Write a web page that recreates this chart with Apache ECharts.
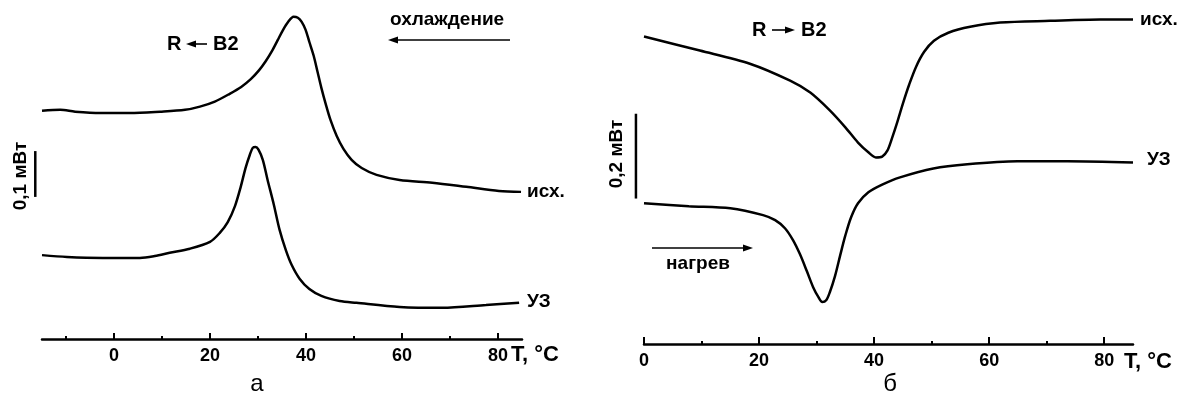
<!DOCTYPE html>
<html>
<head>
<meta charset="utf-8">
<script src="https://cdn.jsdelivr.net/npm/echarts@6/dist/echarts.min.js"></script>
<style>
  html, body { margin: 0; padding: 0; background: #fff; }
  #chart { width: 1188px; height: 396px; }
</style>
</head>
<body>
<div id="chart"></div>
<script>
// panel а (cooling): [T, °C ; signal, mW]
const coolInitial = [
  [-15, 0.498], [-11.2, 0.500], [-8.1, 0.496], [-2.9, 0.493], [3.3, 0.493],
  [9.6, 0.496], [14.8, 0.500], [17.9, 0.507], [21.0, 0.518], [24.1, 0.535],
  [26.5, 0.550], [28.5, 0.567], [30.2, 0.586], [31.6, 0.606], [32.9, 0.628],
  [34.1, 0.652], [35.2, 0.674], [36.3, 0.692], [37.4, 0.703], [38.3, 0.701],
  [39.1, 0.692], [39.9, 0.675], [40.7, 0.648], [41.6, 0.618], [42.4, 0.583],
  [43.2, 0.548], [44.1, 0.513], [45.1, 0.478], [46.4, 0.443], [47.8, 0.415],
  [49.5, 0.391], [51.6, 0.373], [54.7, 0.358], [59.5, 0.347], [66.3, 0.341],
  [73.4, 0.332], [80.2, 0.323], [84.8, 0.321]
]
const coolUS = [
  [-15, 0.183], [-9.8, 0.179], [-2.3, 0.177], [5.4, 0.177], [8.5, 0.181],
  [11.6, 0.188], [15.8, 0.197], [20.0, 0.212], [22.0, 0.231], [23.7, 0.255],
  [25.2, 0.290], [26.4, 0.332], [27.4, 0.373], [28.3, 0.402], [28.9, 0.417],
  [29.5, 0.419], [30.1, 0.413], [31.0, 0.391], [32.0, 0.347], [33.3, 0.293],
  [34.5, 0.238], [35.8, 0.194], [37.0, 0.162], [38.7, 0.131], [40.7, 0.109],
  [43.2, 0.094], [47.0, 0.083], [50.5, 0.079], [59.5, 0.070], [68.4, 0.068],
  [77.5, 0.074], [84.4, 0.079]
]
// panel б (heating)
const heatInitial = [
  [0, 0.725], [9.7, 0.692], [18.4, 0.661], [25.4, 0.621], [28.9, 0.593],
  [32.3, 0.551], [35.0, 0.511], [37.2, 0.475], [39.0, 0.452], [40.3, 0.440],
  [41.4, 0.442], [42.3, 0.456], [43.1, 0.485], [44.0, 0.522], [45.0, 0.567],
  [46.1, 0.612], [47.3, 0.654], [48.7, 0.689], [50.4, 0.715], [52.9, 0.734],
  [56.7, 0.748], [61.9, 0.758], [70.6, 0.762], [79.3, 0.765], [85, 0.765]
]
const heatUS = [
  [0, 0.332], [7.8, 0.325], [15.0, 0.320], [20.7, 0.304], [22.8, 0.292],
  [24.5, 0.273], [25.9, 0.245], [27.1, 0.212], [28.3, 0.172], [29.4, 0.134],
  [30.3, 0.111], [31.0, 0.099], [31.7, 0.104], [32.3, 0.122], [33.2, 0.160],
  [34.1, 0.209], [35.0, 0.256], [36.0, 0.299], [37.2, 0.332], [39.0, 0.358],
  [41.4, 0.376], [44.5, 0.393], [50.3, 0.414], [56.2, 0.424], [64.9, 0.431],
  [73.6, 0.431], [85, 0.428]
]
// scale bars: 0,1 mW (panel а) and 0,2 mW (panel б)
const scaleCool = [[-16.4, 0.31], [-16.4, 0.41]]
const scaleHeat = [[-1.4, 0.343], [-1.4, 0.543]]

const majorCool = [0, 20, 40, 60, 80]
const minorCool = [-10, 10, 30, 50, 70]
const majorHeat = [0, 20, 40, 60, 80]
const minorHeat = [10, 30, 50, 70]

const font = '"Liberation Sans", Arial, sans-serif'
const black = '#000'

function xAx(grid, min, ticks, len, labels) {
  return {
    type: 'value', gridIndex: grid, min: min, max: 85,
    position: 'bottom',
    splitLine: { show: false },
    axisLine: { show: labels, onZero: false, lineStyle: { color: black, width: 2.5 } },
    axisTick: { show: true, inside: true, length: len, customValues: ticks, lineStyle: { color: black, width: 2 } },
    axisLabel: labels ? {
      show: true, customValues: ticks, margin: 8,
      color: black, fontFamily: font, fontWeight: 'bold', fontSize: 18
    } : { show: false }
  }
}

function curve(x, y, data) {
  return {
    type: 'line', xAxisIndex: x, yAxisIndex: y, data: data,
    smooth: 0.3, showSymbol: false,
    lineStyle: { color: black, width: 2.5 }
  }
}

function txt(x, y, s, size, align, weight, rot) {
  return {
    type: 'text', x: x, y: y, rotation: rot || 0,
    style: {
      text: s, fill: black, font: (weight || 'bold') + ' ' + size + 'px ' + font,
      textAlign: align || 'left', textVerticalAlign: 'middle'
    }
  }
}

function arrow(x1, x2, y) {
  const dir = x2 > x1 ? 1 : -1
  return [
    { type: 'line', shape: { x1: x1, y1: y, x2: x2 - dir * 8, y2: y }, style: { stroke: black, lineWidth: 1.6 } },
    { type: 'polygon', shape: { points: [[x2, y], [x2 - dir * 10, y - 3.5], [x2 - dir * 10, y + 3.5]] }, style: { fill: black } }
  ]
}

const chart = echarts.init(document.getElementById('chart'))
chart.setOption({
  animation: false,
  grid: [
    { left: 42, right: 666, top: 9, bottom: 57 },
    { left: 644, right: 55, top: 9, bottom: 52 }
  ],
  xAxis: [
    xAx(0, -15, majorCool, 6, true),
    xAx(0, -15, minorCool, 3, false),
    xAx(1, 0, majorHeat, 7, true),
    xAx(1, 0, minorHeat, 3, false)
  ],
  yAxis: [
    { type: 'value', gridIndex: 0, min: 0, max: 0.72, show: false },
    { type: 'value', gridIndex: 1, min: 0, max: 0.79, show: false }
  ],
  series: [
    curve(0, 0, coolInitial),
    curve(0, 0, coolUS),
    curve(2, 1, heatInitial),
    curve(2, 1, heatUS)
  ]
})

// scale bars placed through the axes
function bar(pts, xi, yi) {
  const a = chart.convertToPixel({ xAxisIndex: xi, yAxisIndex: yi }, pts[0])
  const b = chart.convertToPixel({ xAxisIndex: xi, yAxisIndex: yi }, pts[1])
  return { type: 'line', shape: { x1: a[0], y1: a[1], x2: b[0], y2: b[1] }, style: { stroke: black, lineWidth: 2.5 } }
}

chart.setOption({
  graphic: [
    bar(scaleCool, 0, 0),
    bar(scaleHeat, 2, 1),
    txt(167, 44, 'R', 20),
    ...arrow(207, 186, 44),
    txt(213, 44, 'B2', 20),
    txt(390, 20, 'охлаждение', 19),
    ...arrow(510, 388, 40),
    txt(527, 192, 'исх.', 19),
    txt(527, 302, 'УЗ', 19),
    txt(511, 355, 'T, °C', 22),
    txt(21, 176, '0,1 мВт', 19, 'center', 'bold', Math.PI / 2),
    txt(257, 384, 'а', 24, 'center', 'normal'),

    txt(752, 30, 'R', 20),
    ...arrow(772, 795, 30),
    txt(801, 30, 'B2', 20),
    txt(1140, 20, 'исх.', 19),
    txt(1147, 160, 'УЗ', 19),
    txt(698, 264, 'нагрев', 19, 'center'),
    ...arrow(652, 753, 248),
    txt(1124, 362, 'T, °C', 22),
    txt(617, 154, '0,2 мВт', 19, 'center', 'bold', Math.PI / 2),
    txt(890, 384, 'б', 24, 'center', 'normal')
  ]
})
</script>
</body>
</html>
